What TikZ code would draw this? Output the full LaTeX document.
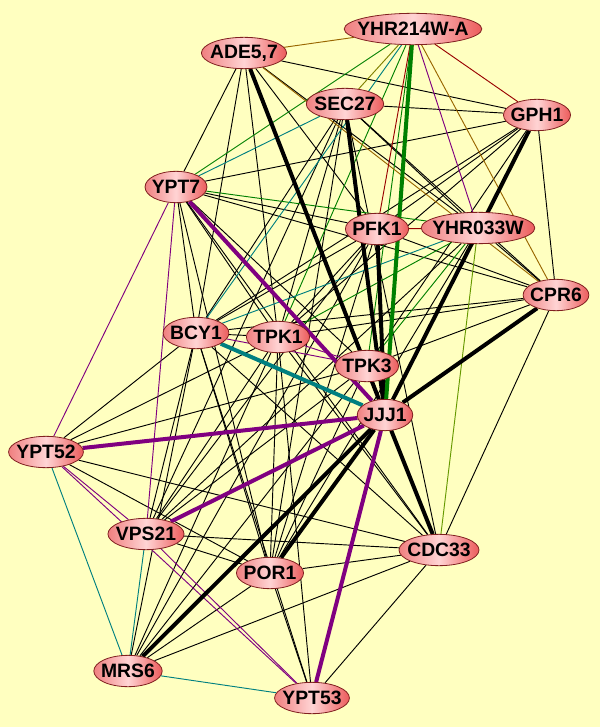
\documentclass[tikz,border=0pt]{standalone}
\usepackage{fontspec}
\setmainfont{Liberation Sans}
\usetikzlibrary{shapes.geometric}
\pgfdeclarelayer{bg}
\pgfsetlayers{bg,main}
\definecolor{bgy}{RGB}{255,255,192}
\definecolor{eg}{RGB}{0,128,0}
\definecolor{ep}{RGB}{128,0,128}
\definecolor{et}{RGB}{0,128,128}
\definecolor{ebr}{RGB}{153,102,0}
\definecolor{erd}{RGB}{153,0,0}
\definecolor{eol}{RGB}{128,128,0}
\definecolor{eyg}{RGB}{102,153,0}
\definecolor{nl}{RGB}{240,128,128}
\definecolor{nm}{RGB}{255,212,212}
\definecolor{nr}{RGB}{236,92,92}
\definecolor{nb}{RGB}{128,32,32}
\newcommand{\glbl}[1]{\makebox[0.85\width]{#1}}
\begin{document}
\begin{tikzpicture}[x=0.75pt,y=-0.75pt,
 gene/.style={ellipse, draw=nb, line width=0.6pt, left color=nl, right color=nr, middle color=nm,
   inner xsep=1pt, inner ysep=0pt, minimum height=23.5pt, font=\fontsize{14.5}{16}\selectfont\bfseries},
 thinedge/.style={line width=0.7pt},
 thickedge/.style={line width=3pt}]
\node[gene] (Y2) at (413,29) {\glbl{YHR214W-A}};
\node[gene] (AD) at (244,53) {\glbl{ADE5,7}};
\node[gene] (SE) at (345,104) {\glbl{SEC27}};
\node[gene] (GP) at (537,115) {\glbl{GPH1}};
\node[gene] (Y7) at (176,187) {\glbl{YPT7}};
\node[gene] (PF) at (377,229) {\glbl{PFK1}};
\node[gene] (Y3) at (478,228) {\glbl{YHR033W}};
\node[gene] (CP) at (556,295) {\glbl{CPR6}};
\node[gene] (BC) at (196,333) {\glbl{BCY1}};
\node[gene] (T1) at (278,337) {\glbl{TPK1}};
\node[gene] (T3) at (367,366) {\glbl{TPK3}};
\node[gene] (JJ) at (385,415) {\glbl{JJJ1}};
\node[gene] (Y52) at (46,452) {\glbl{YPT52}};
\node[gene] (VP) at (146,534) {\glbl{VPS21}};
\node[gene] (CD) at (439,550) {\glbl{CDC33}};
\node[gene] (PO) at (270,573) {\glbl{POR1}};
\node[gene] (MR) at (128,671) {\glbl{MRS6}};
\node[gene] (Y53) at (312,698) {\glbl{YPT53}};
\begin{pgfonlayer}{bg}
\fill[bgy] (0,0) rectangle (600,727);
\foreach \a/\b in {AD/GP, AD/Y3, AD/Y7, AD/BC, AD/T1, AD/PF, AD/T3, AD/CD,
  SE/GP, SE/Y3, SE/CP, SE/BC, SE/VP, SE/PO, SE/CD, SE/T1,
  GP/Y7, GP/CP, GP/BC, GP/T1, GP/PF, GP/T3,
  Y7/PF, Y7/CP, Y7/BC, Y7/T1, Y7/T3, Y7/CD, Y7/PO,
  PF/CP, PF/BC, PF/T1, PF/VP, PF/PO, PF/MR,
  Y3/CP, Y3/PO, Y3/VP,
  CP/BC, CP/T1, CP/T3, CP/CD,
  BC/T1, BC/Y52, BC/VP, BC/CD, BC/PO, BC/MR, BC/Y53,
  T1/Y52, T1/VP, T1/PO, T1/MR, T1/Y53, T1/CD,
  T3/Y52, T3/VP, T3/MR, T3/PO,
  Y52/CD, Y52/PO, VP/CD, VP/PO,
  CD/PO, CD/MR, CD/Y53, PO/MR, PO/Y53}
  \draw[thinedge] (\a) -- (\b);
\foreach \a/\b in {Y2/Y7, Y2/T1, Y2/T3, Y3/Y7, Y3/T3, Y3/T1}
  \draw[thinedge, eg] (\a) -- (\b);
\foreach \a/\b in {Y2/Y3, Y7/Y52, Y7/VP, Y52/VP, Y52/Y53, VP/Y53, BC/T3, T1/T3}
  \draw[thinedge, ep] (\a) -- (\b);
\foreach \a/\b in {Y52/MR, VP/MR, MR/Y53, Y7/SE, BC/Y2, BC/Y3}
  \draw[thinedge, et] (\a) -- (\b);
\foreach \a/\b in {AD/Y2, Y2/CP, AD/CP}
  \draw[thinedge, ebr] (\a) -- (\b);
\foreach \a/\b in {Y2/GP, Y2/PF, PF/Y3}
  \draw[thinedge, erd] (\a) -- (\b);
\draw[thinedge, eol] (Y2) -- (SE);
\draw[thinedge, eyg] (Y3) -- (CD);
\foreach \a/\b in {AD/JJ, SE/JJ, PF/JJ, GP/JJ, CP/JJ, JJ/CD, JJ/PO, JJ/MR}
  \draw[thickedge] (\a) -- (\b);
\draw[thickedge, eg] (Y2) -- (JJ);
\foreach \a/\b in {Y7/JJ, Y52/JJ, VP/JJ, Y53/JJ}
  \draw[thickedge, ep] (\a) -- (\b);
\draw[thickedge, et] (BC) -- (JJ);
\end{pgfonlayer}
\end{tikzpicture}
\end{document}
